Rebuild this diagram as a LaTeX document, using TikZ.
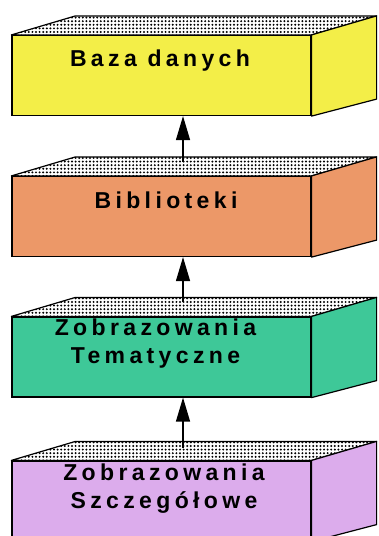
\documentclass[tikz,border=0pt]{standalone}
\usepackage{fontspec}
\newfontfamily\boxfont[LetterSpace=19]{Liberation Sans}
\usetikzlibrary{arrows.meta,patterns.meta}
\definecolor{bazacol}{RGB}{243,238,72}
\definecolor{biblcol}{RGB}{236,152,104}
\definecolor{tematcol}{RGB}{62,200,152}
\definecolor{szczcol}{RGB}{220,172,236}
\begin{document}
\begin{tikzpicture}[
      x=1pt,
      y=-1pt,
      front/.style={draw,line width=1.2pt,minimum width=299pt,
        minimum height=80pt,inner sep=0pt},
      topface/.style={draw,line width=1.2pt,line join=round,
        preaction={fill=white},
        pattern={Dots[distance=3.6pt,radius=1.1pt]}},
      side/.style={draw,line width=1.2pt,line join=round},
      boxtext/.style={anchor=north,inner sep=0pt,align=center,
        font=\boxfont\bfseries\fontsize{23}{28}\selectfont},
      conn/.style={line width=1.3pt,-{Triangle[length=24pt,width=14pt]}}
    ]
    \useasboundingbox (0,0) rectangle (378,536);

    \node[front,fill=bazacol]  (baza)  at (161.5,75.5) {};
    \node[front,fill=biblcol]  (bibl)  at (161.5,216.5) {};
    \node[front,fill=tematcol] (temat) at (161.5,357) {};
    \node[front,fill=szczcol]  (szcz)  at (161.5,501) {};

    \node[boxtext] (baza-t)  at (160,50)  {Baza danych};
    \node[boxtext] (bibl-t)  at (166,192) {Biblioteki};
    \node[boxtext] (temat-t) at (155.5,319) {Zobrazowania\\Tematyczne};
    \node[boxtext] (szcz-t)  at (164,464) {Zobrazowania\\Szczegółowe};

    \foreach \b/\c in {baza/bazacol,bibl/biblcol,temat/tematcol,szcz/szczcol} {
      \draw[topface] (\b.north west) -- ++(64,-19)
        -- ([shift={(65,-19)}]\b.north east) -- (\b.north east) -- cycle;
      \draw[side,fill=\c] (\b.north east) -- ++(65,-19)
        -- ([shift={(65,-17)}]\b.south east) -- (\b.south east) -- cycle;
    }

    \coordinate (bibl-top)  at ([xshift=21.5pt,yshift=14pt]bibl.north);
    \coordinate (temat-top) at ([xshift=21.5pt,yshift=14pt]temat.north);
    \coordinate (szcz-top)  at ([xshift=21.5pt,yshift=12pt]szcz.north);

    \draw[conn] (bibl-top) -- (bibl-top |- baza.south);
    \draw[conn] (temat-top) -- (temat-top |- bibl.south);
    \draw[conn] (szcz-top) -- (szcz-top |- temat.south);
  \end{tikzpicture}
\end{document}
